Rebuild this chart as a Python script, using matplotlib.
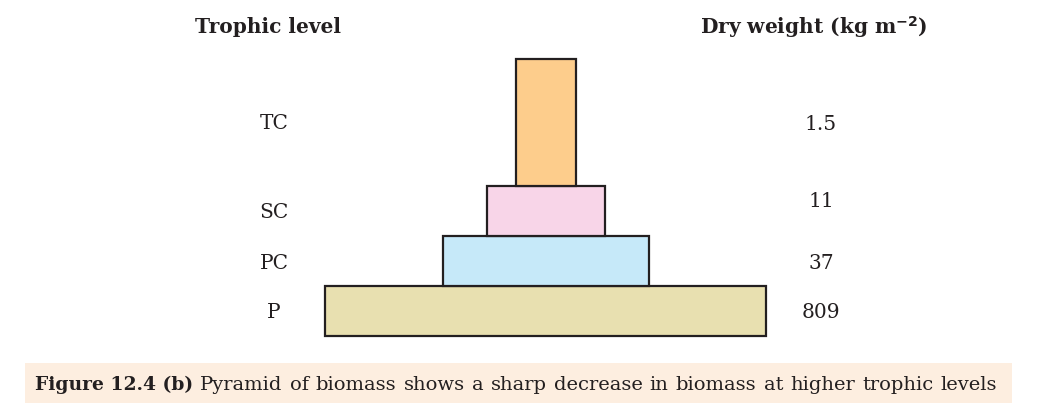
import matplotlib
matplotlib.use("Agg")
import matplotlib.pyplot as plt
from matplotlib.patches import Rectangle

# trophic levels from the bottom up
levels = ["P", "PC", "SC", "TC"]
dry_weight = ["809", "37", "11", "1.5"]
colours = ["#e8e0b0", "#c6e9f9", "#f8d5e8", "#fdcd8c"]

# drawn block sizes (px), not proportional to the values
block_w = [441, 206, 118, 60]
block_h = [50, 50, 50, 127]

caption_bold = "Figure 12.4 (b)"
caption_rest = "Pyramid of biomass shows a sharp decrease in biomass at higher trophic levels"

plt.rcParams["font.family"] = ["DejaVu Serif"]
ink = "#231f20"

fig = plt.figure(figsize=(10.62, 4.12), dpi=100)
ax = fig.add_axes([0, 0, 1, 1])
ax.set_xlim(0, 1062)
ax.set_ylim(412, 0)
ax.axis("off")

cx = 545.5
bottom = 336
for c, w, h in zip(colours, block_w, block_h):
    ax.bar(cx, -h, width=w, bottom=bottom, color=c, edgecolor=ink, linewidth=1.6, zorder=2)
    bottom -= h

# side labels, baselines
label_y = [318, 269, 218, 129]
value_y = [318, 269, 207, 130]
for lab, y in zip(levels, label_y):
    ax.text(274, y, lab, ha="center", va="baseline", fontsize=14.5, color=ink)
for val, y in zip(dry_weight, value_y):
    ax.text(821, y, val, ha="center", va="baseline", fontsize=14.5, color=ink)

ax.text(268, 33, "Trophic level", ha="center", va="baseline", fontsize=14.5,
        fontweight="bold", color=ink)
ax.text(814, 34, "Dry weight (kg m$^{\\mathbf{-2}}$)", ha="center", va="baseline",
        fontsize=14.5, fontweight="bold", color=ink)

# caption box
ax.add_patch(Rectangle((25, 363), 987, 40, facecolor="#fdeee0", edgecolor="none", zorder=1))
t1 = ax.text(35, 390, caption_bold, ha="left", va="baseline", fontsize=13.5,
             fontweight="bold", color=ink)
fig.canvas.draw()
r = fig.canvas.get_renderer()
x0 = t1.get_window_extent(r).x1 + 7

# spread the words out to the right edge, like the justified caption
words = caption_rest.split()
items = [ax.text(0, 390, w, ha="left", va="baseline", fontsize=14, color=ink) for w in words]
widths = [t.get_window_extent(r).width for t in items]
gap = (997 - x0 - sum(widths)) / (len(words) - 1)
x = x0
for t, w in zip(items, widths):
    t.set_x(x)
    x += w + gap

fig.savefig("out.png", dpi=100)
